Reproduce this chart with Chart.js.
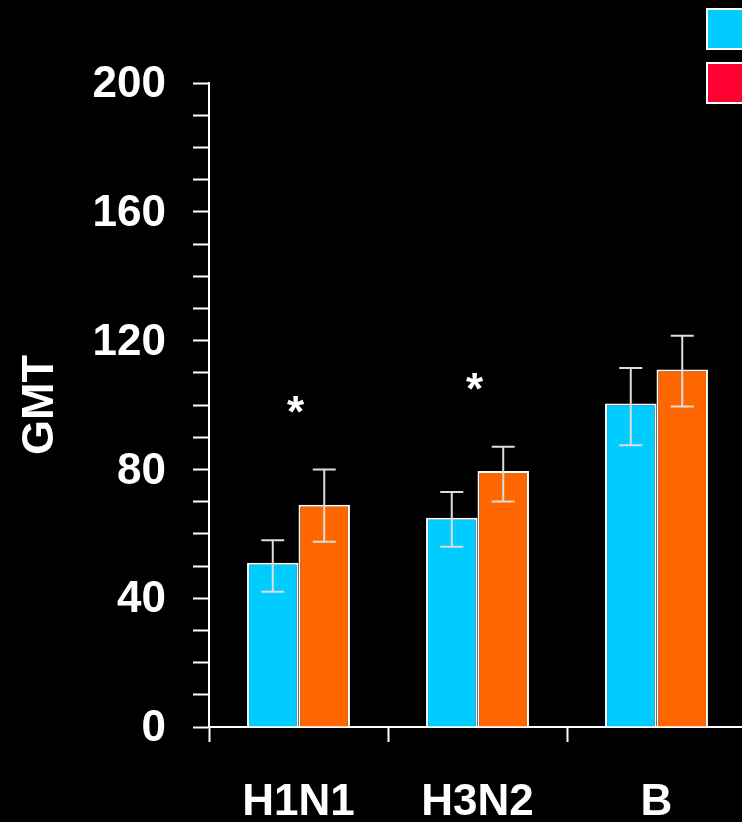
<!DOCTYPE html>
<html>
<head>
<meta charset="utf-8">
<script src="https://cdn.jsdelivr.net/npm/chart.js@4.4.1/dist/chart.umd.min.js"></script>
<style>
  html, body { margin: 0; padding: 0; background: #000; overflow: hidden; }
  canvas { display: block; }
</style>
</head>
<body>
<canvas id="gmtChart" width="746" height="822"></canvas>
<script>
// GMT by strain, two groups, with error bars and significance marks

const strains = ["H1N1", "H3N2", "B"];

const groupAGmt = [51, 65, 100.5];
const groupALow = [42, 56, 87.5];
const groupAHigh = [58, 73, 111.5];

const groupBGmt = [69, 79.5, 111];
const groupBLow = [57.5, 70, 99.5];
const groupBHigh = [80, 87, 121.5];

const significance = ["*", "*", ""];

const yTicks = [0, 40, 80, 120, 160, 200];

const cyan = "#00CCFF";
const orange = "#FF6600";
const legendColors = ["#00CCFF", "#FF0033"];

const FONT = "'Liberation Sans', Arial, Helvetica, sans-serif";

const errorBars = [
  { low: groupALow, high: groupAHigh },
  { low: groupBLow, high: groupBHigh },
];

// whiskers on top of each bar
const errorBarPlugin = {
  id: "errorBars",
  afterDatasetsDraw(chart) {
    const ctx = chart.ctx;
    const y = chart.scales.y;
    ctx.save();
    ctx.strokeStyle = "#dddddd";
    ctx.lineWidth = 2;
    chart.data.datasets.forEach((ds, i) => {
      const meta = chart.getDatasetMeta(i);
      meta.data.forEach((bar, j) => {
        const top = y.getPixelForValue(errorBars[i].high[j]);
        const bottom = y.getPixelForValue(errorBars[i].low[j]);
        const half = 11.5;
        ctx.beginPath();
        ctx.moveTo(bar.x, top);
        ctx.lineTo(bar.x, bottom);
        ctx.moveTo(bar.x - half, top);
        ctx.lineTo(bar.x + half, top);
        ctx.moveTo(bar.x - half, bottom);
        ctx.lineTo(bar.x + half, bottom);
        ctx.stroke();
      });
    });
    ctx.restore();
  },
};

// asterisks above the taller whisker of each strain
const significancePlugin = {
  id: "significance",
  afterDatasetsDraw(chart) {
    const ctx = chart.ctx;
    const x = chart.scales.x;
    const y = chart.scales.y;
    ctx.save();
    ctx.fillStyle = "#fff";
    ctx.font = "bold 44px " + FONT;
    ctx.textAlign = "center";
    ctx.textBaseline = "alphabetic";
    significance.forEach((mark, j) => {
      if (!mark) return;
      const peak = Math.max(groupAHigh[j], groupBHigh[j]) + 20;
      ctx.fillText(mark, x.getPixelForValue(j) - 3, y.getPixelForValue(peak) + 22);
    });
    ctx.restore();
  },
};

// legend swatches in the top right corner
const legendPlugin = {
  id: "swatches",
  afterDraw(chart) {
    const ctx = chart.ctx;
    ctx.save();
    legendColors.forEach((c, i) => {
      const top = 9 + i * 54;
      ctx.fillStyle = c;
      ctx.fillRect(707, top, 42, 40);
      ctx.strokeStyle = "#fff";
      ctx.lineWidth = 2;
      ctx.strokeRect(707, top, 42, 40);
    });
    ctx.restore();
  },
};

new Chart(document.getElementById("gmtChart"), {
  type: "bar",
  data: {
    labels: strains,
    datasets: [
      {
        label: "Group A",
        data: groupAGmt,
        backgroundColor: cyan,
        borderColor: "#fff",
        borderWidth: 2,
      },
      {
        label: "Group B",
        data: groupBGmt,
        backgroundColor: orange,
        borderColor: "#fff",
        borderWidth: 2,
      },
    ],
  },
  options: {
    responsive: false,
    animation: false,
    devicePixelRatio: 1,
    layout: {
      padding: { top: 83, left: 0, right: 0, bottom: 0 },
    },
    datasets: {
      bar: {
        categoryPercentage: 0.575,
        barPercentage: 1.0,
      },
    },
    plugins: {
      legend: { display: false },
      tooltip: { enabled: false },
    },
    scales: {
      x: {
        offset: true,
        grid: {
          offset: true,
          drawOnChartArea: false,
          tickLength: 15,
          tickColor: "#fff",
          tickWidth: 2,
        },
        border: { color: "#fff", width: 2 },
        ticks: {
          color: "#fff",
          padding: 34,
          font: { family: FONT, size: 44, weight: "bold" },
        },
        afterFit(scale) {
          scale.height = 95;
        },
      },
      y: {
        min: 0,
        max: 200,
        grid: {
          drawOnChartArea: false,
          tickLength: 16,
          tickColor: "#fff",
          tickWidth: 2,
        },
        border: { color: "#fff", width: 2 },
        ticks: {
          stepSize: 10,
          autoSkip: false,
          color: "#fff",
          padding: 27,
          labelOffset: 2,
          font: { family: FONT, size: 44, weight: "bold" },
          callback: (v) => (yTicks.includes(v) ? String(v) : ""),
        },
        title: {
          display: true,
          text: "GMT",
          color: "#fff",
          padding: { top: 14, bottom: 0 },
          font: { family: FONT, size: 45, weight: "bold" },
        },
        afterFit(scale) {
          scale.width = 209;
        },
      },
    },
  },
  plugins: [errorBarPlugin, significancePlugin, legendPlugin],
});
</script>
</body>
</html>
